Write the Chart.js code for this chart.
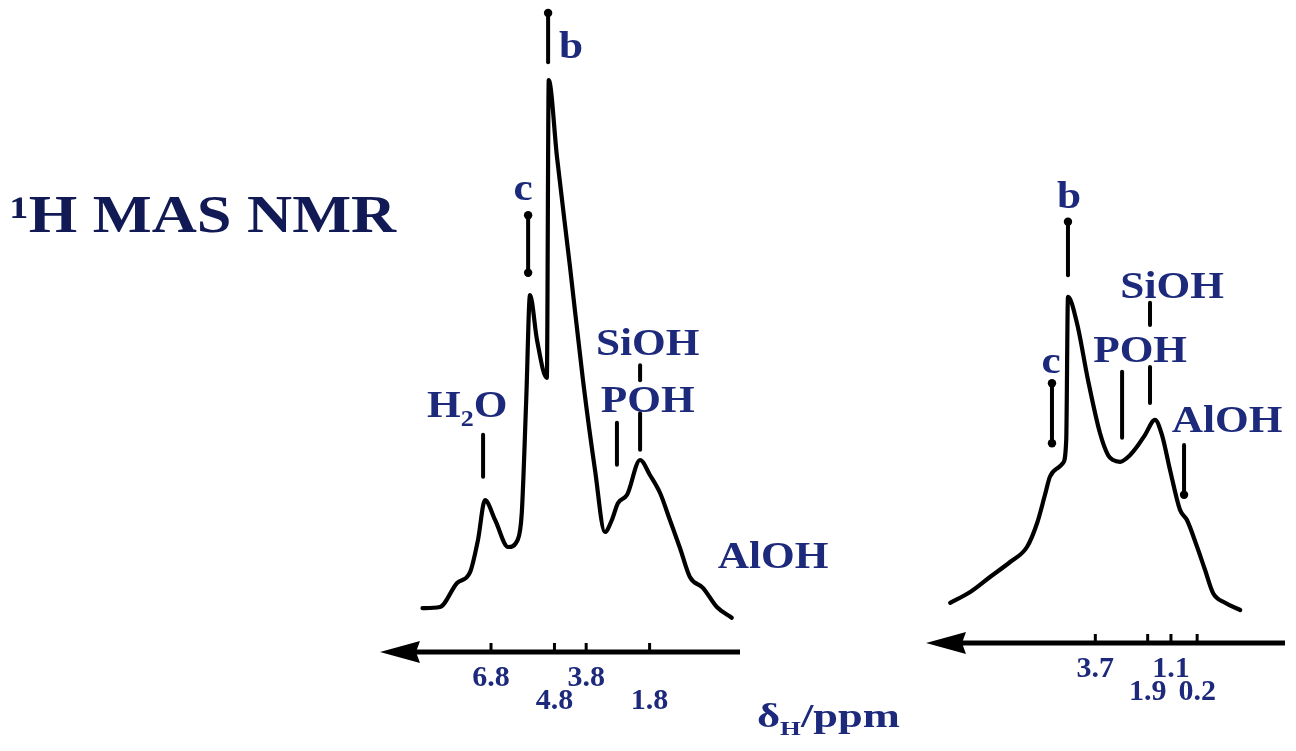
<!DOCTYPE html>
<html>
<head>
<meta charset="utf-8">
<script src="https://cdn.jsdelivr.net/npm/chart.js"></script>
<style>
  html, body { margin: 0; padding: 0; background: #ffffff; overflow: hidden; }
  .layer { position: absolute; left: 0; top: 0; width: 1296px; height: 751px; }
</style>
</head>
<body>
<div class="layer"><canvas id="leftSpec" width="1296" height="751"></canvas></div>
<div class="layer"><canvas id="rightSpec" width="1296" height="751"></canvas></div>
<script>
// ---------------- data (chemical shift in ppm, intensity in arbitrary units) ----------------
const leftShift = [8.96, 8.41, 7.87, 7.46, 7.21, 6.99, 6.67, 6.26, 5.96, 5.83, 5.69, 5.57, 5.35, 5.04, 4.98,
                   4.72, 4.31, 3.90, 3.52, 3.21, 2.99, 2.80, 2.51, 2.10, 1.79, 1.47, 1.16, 0.84, 0.53, 0.12, -0.32, -0.79];
const leftIntensity = [7.3, 7.5, 11.5, 13.3, 18.7, 25.3, 22.0, 17.5, 18.7, 23.2, 42.0, 59.5, 52.0, 45.7, 95.3,
                       82.5, 64.2, 45.3, 30.3, 20.0, 22.0, 24.8, 26.2, 32.0, 29.5, 26.5, 22.0, 17.3, 12.5, 10.7, 7.5, 5.7];
const leftTicks = [6.8, 4.8, 3.8, 1.8];

const rightShift = [8.69, 8.00, 7.32, 6.63, 6.05, 5.70, 5.43, 5.26, 4.98, 4.81, 4.70, 4.64, 4.33, 3.95, 3.54,
                    3.26, 3.09, 2.85, 2.51, 2.27, 1.99, 1.65, 1.41, 1.13, 0.79, 0.55, 0.20, -0.07, -0.35, -0.76, -1.28];
const rightIntensity = [6.7, 8.5, 11.0, 13.5, 16.0, 20.0, 24.7, 27.7, 29.2, 30.0, 33.8, 57.7, 53.3, 43.8, 35.0,
                        31.3, 30.5, 30.2, 31.3, 32.7, 34.7, 37.2, 34.7, 28.8, 22.2, 20.5, 16.0, 12.2, 8.3, 6.7, 5.5];
const rightTicks = [3.7, 1.9, 1.1, 0.2];

// peak assignments (text, shift of label centre, intensity of label baseline)
const leftLabelText  = ['H_2O', 'c', 'b', 'SiOH', 'POH', 'AlOH'];
const leftLabelShift = [7.55, 5.79, 4.28, 1.86, 1.86, -2.09];
const leftLabelLevel = [39.2, 75.3, 99.0, 49.5, 40.0, 14.0];
// marker bars (shift, upper intensity, lower intensity, end dots)
const leftMarkShift = [7.05, 5.63, 5.00, 2.10, 2.10, 2.83];
const leftMarkFrom  = [36.2, 72.8, 106.5, 47.8, 39.8, 38.2];
const leftMarkTo    = [29.2, 63.2, 98.3, 45.3, 33.7, 31.2];
const leftMarkDots  = ['none', 'both', 'top', 'none', 'none', 'none'];

const rightLabelText  = ['b', 'c', 'SiOH', 'POH', 'AlOH'];
const rightLabelShift = [4.60, 5.22, 1.06, 2.16, -0.83];
const rightLabelLevel = [72.5, 45.0, 57.5, 46.8, 35.2];
const rightMarkShift = [4.64, 5.19, 1.82, 2.78, 1.82, 0.65];
const rightMarkFrom  = [70.2, 43.3, 56.7, 45.2, 46.0, 33.0];
const rightMarkTo    = [61.3, 33.3, 53.0, 34.2, 40.0, 24.7];
const rightMarkDots  = ['top', 'both', 'none', 'none', 'none', 'bottom'];

const titleText = '\u00B9H MAS NMR';
const axisTitleText = '\u03B4_H/ppm';

// ---------------- helpers ----------------
const NAVY = '#1d2a7c';
const SERIF = '"Liberation Serif", "Times New Roman", serif';

function segments(s) {
  const out = []; const re = /_(.)|([^_]+)/g; let m;
  while ((m = re.exec(s))) out.push(m[1] ? { t: m[1], sub: true } : { t: m[2], sub: false });
  return out;
}
function drawRich(ctx, s, x, y, size, stretch, color, align) {
  const parts = segments(s);
  const font = sz => `bold ${sz}px ${SERIF}`;
  let w = 0;
  parts.forEach(p => { ctx.font = font(p.sub ? size * 0.6 : size); p.w = ctx.measureText(p.t).width; w += p.w; });
  ctx.save();
  ctx.translate(x, y);
  ctx.scale(stretch, 1);
  ctx.fillStyle = color; ctx.textAlign = 'left'; ctx.textBaseline = 'alphabetic';
  let cx = align === 'center' ? -w / 2 : 0;
  parts.forEach(p => {
    ctx.font = font(p.sub ? size * 0.6 : size);
    ctx.fillText(p.t, cx, p.sub ? size * 0.24 : 0);
    cx += p.w;
  });
  ctx.restore();
}

function makePlugin(id, spec) {
  return {
    id,
    afterDraw(chart) {
      const ctx = chart.ctx, xs = chart.scales.x, ys = chart.scales.y;
      const y0 = ys.getPixelForValue(0);
      ctx.save();
      // axis arrow
      ctx.strokeStyle = '#000'; ctx.fillStyle = '#000';
      ctx.lineWidth = 5; ctx.lineCap = 'butt';
      ctx.beginPath(); ctx.moveTo(xs.left + 25, y0); ctx.lineTo(xs.right, y0); ctx.stroke();
      ctx.beginPath();
      ctx.moveTo(xs.left, y0);
      ctx.lineTo(xs.left + 40, y0 - 11);
      ctx.lineTo(xs.left + 36, y0);
      ctx.lineTo(xs.left + 40, y0 + 11);
      ctx.closePath(); ctx.fill();
      // tick marks pointing up
      ctx.lineWidth = 3;
      xs.ticks.forEach(t => {
        const px = xs.getPixelForValue(t.value);
        ctx.beginPath(); ctx.moveTo(px, y0 - 9); ctx.lineTo(px, y0); ctx.stroke();
      });
      // marker bars
      ctx.lineWidth = 4; ctx.lineCap = 'round';
      spec.markShift.forEach((s, i) => {
        const px = xs.getPixelForValue(s);
        const a = ys.getPixelForValue(spec.markFrom[i]);
        const b = ys.getPixelForValue(spec.markTo[i]);
        ctx.beginPath(); ctx.moveTo(px, a); ctx.lineTo(px, b); ctx.stroke();
        const d = spec.markDots[i];
        if (d === 'top' || d === 'both') { ctx.beginPath(); ctx.arc(px, a, 4.2, 0, Math.PI * 2); ctx.fill(); }
        if (d === 'bottom' || d === 'both') { ctx.beginPath(); ctx.arc(px, b, 4.2, 0, Math.PI * 2); ctx.fill(); }
      });
      // labels
      spec.labelText.forEach((txt, i) => {
        drawRich(ctx, txt, xs.getPixelForValue(spec.labelShift[i]), ys.getPixelForValue(spec.labelLevel[i]),
                 38, 1.14, NAVY, 'center');
      });
      if (spec.extra) spec.extra(ctx);
      ctx.restore();
    }
  };
}

function makeChart(canvasId, shift, inten, ticks, range, padding, spec) {
  return new Chart(document.getElementById(canvasId), {
    type: 'line',
    data: {
      datasets: [{
        data: shift.map((x, i) => ({ x, y: inten[i] })),
        borderColor: '#000',
        borderWidth: 4.2,
        pointRadius: 0,
        fill: false,
        cubicInterpolationMode: 'monotone',
        borderJoinStyle: 'round',
        borderCapStyle: 'round'
      }]
    },
    options: {
      responsive: false,
      animation: false,
      devicePixelRatio: 1,
      layout: { padding },
      plugins: { legend: { display: false }, tooltip: { enabled: false }, title: { display: false } },
      scales: {
        x: {
          type: 'linear',
          reverse: true,
          min: range[0], max: range[1],
          grid: { display: false, drawTicks: false },
          border: { display: false },
          afterBuildTicks: s => { s.ticks = ticks.map(v => ({ value: v })); },
          afterFit: s => { s.height = 80; s.paddingLeft = 0; s.paddingRight = 0; },
          ticks: {
            autoSkip: false, maxRotation: 0, minRotation: 0,
            padding: 15,
            color: NAVY,
            font: { family: SERIF, size: 30, weight: 'bold', lineHeight: '23px' },
            callback: (v, i) => { const l = Number(v).toFixed(1); return i % 2 === 0 ? [l] : ['', l]; }
          }
        },
        y: { display: false, min: 0, max: 100 }
      }
    },
    plugins: [makePlugin(canvasId + 'Deco', spec)]
  });
}

makeChart('leftSpec', leftShift, leftIntensity, leftTicks, [-1.05, 10.3],
  { left: 380, right: 556, top: 52, bottom: 19 },
  {
    labelText: leftLabelText, labelShift: leftLabelShift, labelLevel: leftLabelLevel,
    markShift: leftMarkShift, markFrom: leftMarkFrom, markTo: leftMarkTo, markDots: leftMarkDots,
    extra: ctx => {
      drawRich(ctx, titleText, 10, 232, 52, 1.2, '#121a55', 'left');
      drawRich(ctx, axisTitleText, 757, 727, 33, 1.35, NAVY, 'left');
    }
  });

makeChart('rightSpec', rightShift, rightIntensity, rightTicks, [-2.82, 9.52],
  { left: 926, right: 11, top: 43, bottom: 28 },
  {
    labelText: rightLabelText, labelShift: rightLabelShift, labelLevel: rightLabelLevel,
    markShift: rightMarkShift, markFrom: rightMarkFrom, markTo: rightMarkTo, markDots: rightMarkDots
  });
</script>
</body>
</html>
